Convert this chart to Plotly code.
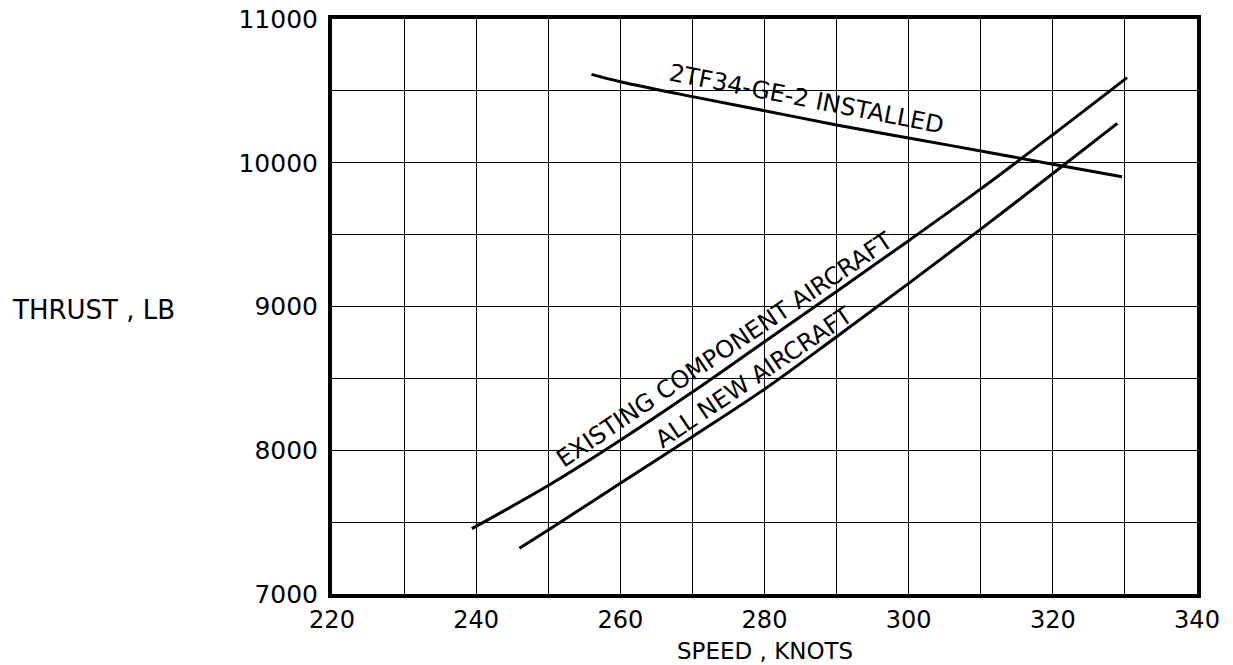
import plotly.graph_objects as go

# ---- data ----
installed_speed = [256.0, 260, 270, 280, 290, 300, 310, 320, 329.6]
installed_thrust = [10615, 10564, 10460, 10362, 10263, 10172, 10082, 9990, 9903]

existing_speed = [239.4, 250, 260, 270, 280, 290, 300, 310, 320, 330.3]
existing_thrust = [7455, 7755, 8070, 8405, 8755, 9105, 9458, 9818, 10195, 10592]

allnew_speed = [246.0, 250, 260, 270, 280, 290, 300, 310, 320, 328.95]
allnew_thrust = [7318, 7445, 7770, 8094, 8425, 8790, 9161, 9538, 9925, 10274]

x_tickvals = [220, 240, 260, 280, 300, 320, 340]
x_ticktext = ["220", "240", "260", "280", "300", "320", "340"]
y_tickvals = [7000, 8000, 9000, 10000, 11000]
y_ticktext = ["7000", "8000", "9000", "10000", "11000"]

label_installed = "2TF34-GE-2 INSTALLED"
label_existing = "EXISTING COMPONENT AIRCRAFT"
label_allnew = "ALL NEW AIRCRAFT"
x_title = "SPEED , KNOTS"
y_title = "THRUST , LB"

FONT = "DejaVu Sans"

fig = go.Figure()
for xs, ys in [(installed_speed, installed_thrust),
               (existing_speed, existing_thrust),
               (allnew_speed, allnew_thrust)]:
    fig.add_trace(go.Scatter(x=xs, y=ys, mode="lines",
                             line=dict(color="black", width=3, shape="spline", smoothing=1.0),
                             showlegend=False, hoverinfo="skip"))

W, H = 1233, 665
L, R, T, B = 332, 36, 19, 71

fig.update_layout(
    width=W, height=H,
    margin=dict(l=L, r=R, t=T, b=B, autoexpand=False),
    paper_bgcolor="white", plot_bgcolor="white",
    font=dict(family=FONT, size=25, color="black"),
    xaxis=dict(range=[220, 340], tickvals=x_tickvals, ticktext=x_ticktext,
               showgrid=True, gridcolor="black", gridwidth=1,
               minor=dict(dtick=10, tick0=220, showgrid=True, gridcolor="black", gridwidth=1),
               showline=True, linecolor="black", linewidth=4, mirror=True,
               ticks="", ticklabelstandoff=1, zeroline=False, automargin=False,
               tickfont=dict(family=FONT, size=24)),
    yaxis=dict(range=[7000, 11000], tickvals=y_tickvals, ticktext=y_ticktext,
               showgrid=True, gridcolor="black", gridwidth=1,
               minor=dict(dtick=500, tick0=7000, showgrid=True, gridcolor="black", gridwidth=1),
               showline=True, linecolor="black", linewidth=4, mirror=True,
               ticks="", ticklabelstandoff=5, zeroline=False, automargin=False,
               tickfont=dict(family=FONT, size=25)),
)

pw = W - L - R
ph = H - T - B
annotations = [
    dict(text=y_title, xref="paper", yref="paper", x=(10 - L) / pw, y=(H - B - 310) / ph,
         xanchor="left", yanchor="middle", showarrow=False, font=dict(size=26)),
    dict(text=x_title, xref="paper", yref="paper", x=0.5, y=(H - B - 651) / ph,
         xanchor="center", yanchor="middle", showarrow=False, font=dict(size=23)),
    dict(text=label_installed, x=285.8, y=10445, xref="x", yref="y", showarrow=False,
         textangle=11, font=dict(size=24)),
    dict(text=label_existing, x=274.4, y=8700, xref="x", yref="y", showarrow=False,
         textangle=-34, font=dict(size=24)),
    dict(text=label_allnew, x=278.6, y=8510, xref="x", yref="y", showarrow=False,
         textangle=-34, font=dict(size=24)),
]
fig.update_layout(annotations=annotations)

fig.write_html("out.html", config={"displayModeBar": False},
               post_script="document.body.style.margin='0';document.body.style.overflow='hidden';")
